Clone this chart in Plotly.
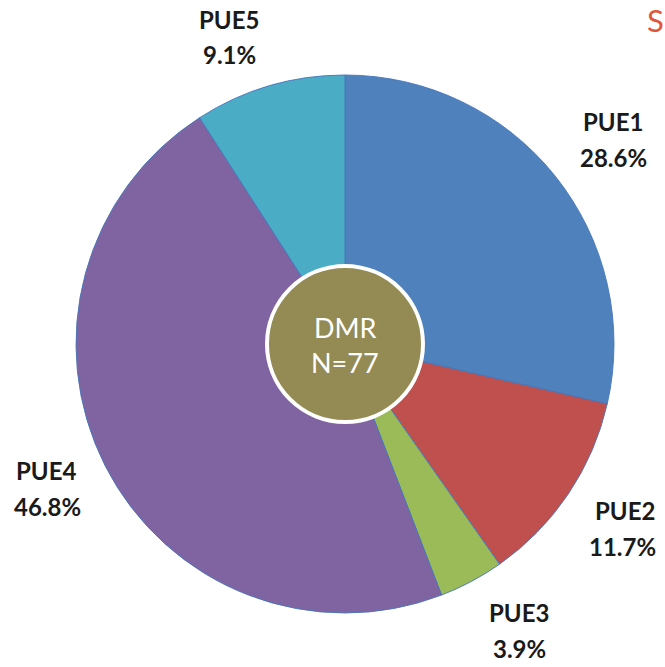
import plotly.graph_objects as go

# Distribution of PUE classes among DMR cases
categories = ["PUE1", "PUE2", "PUE3", "PUE4", "PUE5"]
counts = [22, 9, 3, 36, 7]
slice_colors = ["#4F81BD", "#C0504D", "#9BBB59", "#8064A2", "#4BACC6"]
center_lines = ["DMR", "N=77"]

W, H = 665, 667
total = sum(counts)
percents = [f"{c / total * 100:.1f}%" for c in counts]

# Label anchor points (pixel coordinates from top-left), name line then percent line
label_pos = {
    "PUE1": ((613, 121), (613, 157)),
    "PUE2": ((625, 510), (622, 546)),
    "PUE3": ((519, 612), (519, 648)),
    "PUE4": ((46, 470), (47, 506)),
    "PUE5": ((229, 19), (229, 55)),
}

cx, cy, r_pie, r_center = 345, 344, 269, 80


def dom_x(c, r):
    return [(c - r) / W, (c + r) / W]


def dom_y(c, r):
    return [(H - c - r) / H, (H - c + r) / H]


fig = go.Figure()

fig.add_trace(go.Pie(
    labels=categories,
    values=counts,
    sort=False,
    direction="clockwise",
    rotation=0,
    marker=dict(colors=slice_colors, line=dict(color="rgba(70,118,185,0.9)", width=1)),
    textinfo="none",
    hoverinfo="skip",
    showlegend=False,
    domain=dict(x=dom_x(cx, r_pie), y=dom_y(cy, r_pie)),
))

# Centre disc with white rim
fig.add_trace(go.Pie(
    labels=["DMR"],
    values=[total],
    marker=dict(colors=["#948A54"], line=dict(color="white", width=4)),
    textinfo="none",
    hoverinfo="skip",
    showlegend=False,
    domain=dict(x=dom_x(cx, r_center - 2), y=dom_y(cy, r_center - 2)),
))

annotations = []
label_font = dict(family="Lato, 'Open Sans', sans-serif", size=24, color="#1a1a1a")
for name, pct in zip(categories, percents):
    (x1, y1), (x2, y2) = label_pos[name]
    for text, (x, y) in ((name, (x1, y1)), (pct, (x2, y2))):
        annotations.append(dict(
            x=x / W, y=1 - y / H, xref="paper", yref="paper",
            text=f"<b>{text}</b>", showarrow=False,
            xanchor="center", yanchor="middle", font=label_font,
        ))

for text, y in zip(center_lines, (327, 362)):
    annotations.append(dict(
        x=cx / W, y=1 - y / H, xref="paper", yref="paper",
        text=text, showarrow=False, xanchor="center", yanchor="middle",
        font=dict(family="Lato, sans-serif", size=27, color="white"),
    ))

# Edge of the slide title
annotations.append(dict(
    x=1, y=1, xref="paper", yref="paper",
    text="S", showarrow=False, xanchor="right", yanchor="top",
    borderpad=0,
    font=dict(family="Lato, sans-serif", size=31, color="#E0563A"),
))

fig.update_layout(
    width=W, height=H,
    margin=dict(l=0, r=0, t=0, b=0),
    paper_bgcolor="white", plot_bgcolor="white",
    annotations=annotations,
)

fig.write_html("out.html")
